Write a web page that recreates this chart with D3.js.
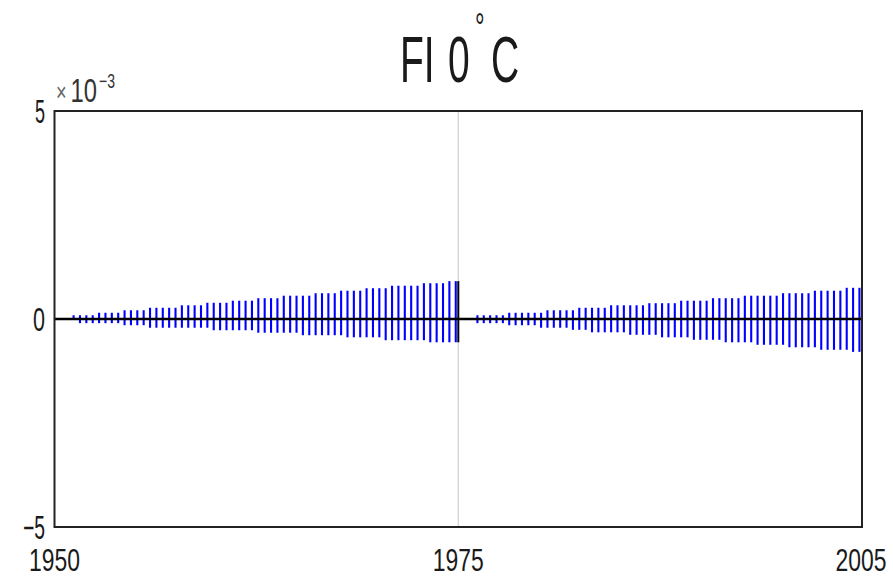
<!DOCTYPE html>
<html>
<head>
<meta charset="utf-8">
<script src="https://cdn.jsdelivr.net/npm/d3@7"></script>
<style>
  html, body { margin: 0; padding: 0; background: #fff; }
  svg { display: block; }
  text { font-family: "Liberation Sans", Arial, sans-serif; fill: #1a1a1a; }
</style>
</head>
<body>
<svg id="chart" width="893" height="578"></svg>
<script>
// Year breaks of the two segments on the time axis
const xBreaks = [1950, 1975, 2005];
const xTickLabels = ["1950", "1975", "2005"];
const yTicks = [-5, 0, 5];          // in units of 10^-3
const yExponent = "−3";

// Upper and lower ends of each stem, in units of 10^-3, segment 1950–1975
const seg1Top = [
  0.09, 0.09, 0.09, 0.09, 0.15, 0.15, 0.15, 0.15, 0.21, 0.21,
  0.21, 0.21, 0.27, 0.27, 0.27, 0.27, 0.27, 0.33, 0.33, 0.33,
  0.33, 0.39, 0.39, 0.39, 0.39, 0.44, 0.44, 0.44, 0.44, 0.50,
  0.50, 0.50, 0.50, 0.56, 0.56, 0.56, 0.56, 0.56, 0.62, 0.62,
  0.62, 0.62, 0.68, 0.68, 0.68, 0.68, 0.74, 0.74, 0.74, 0.74,
  0.80, 0.80, 0.80, 0.80, 0.80, 0.86, 0.86, 0.86, 0.86, 0.91,
  0.91
];
const seg1Bottom = [
  -0.02, -0.10, -0.10, -0.10, -0.10, -0.10, -0.10, -0.10, -0.15, -0.15,
  -0.15, -0.15, -0.21, -0.21, -0.21, -0.21, -0.21, -0.21, -0.21, -0.21,
  -0.21, -0.21, -0.27, -0.27, -0.27, -0.27, -0.27, -0.27, -0.27, -0.33,
  -0.33, -0.33, -0.33, -0.33, -0.33, -0.33, -0.39, -0.39, -0.39, -0.39,
  -0.39, -0.39, -0.39, -0.44, -0.44, -0.44, -0.44, -0.44, -0.44, -0.51,
  -0.51, -0.51, -0.51, -0.51, -0.51, -0.51, -0.56, -0.56, -0.56, -0.56,
  -0.56
];

// Segment 1975–2005
const seg2Top = [
  0.09, 0.09, 0.09, 0.09, 0.09, 0.15, 0.15, 0.15, 0.15, 0.15,
  0.15, 0.21, 0.21, 0.21, 0.21, 0.21, 0.27, 0.27, 0.27, 0.27,
  0.27, 0.33, 0.33, 0.33, 0.33, 0.33, 0.33, 0.38, 0.38, 0.38,
  0.38, 0.38, 0.44, 0.44, 0.44, 0.44, 0.44, 0.50, 0.50, 0.50,
  0.50, 0.50, 0.56, 0.56, 0.56, 0.56, 0.56, 0.56, 0.62, 0.62,
  0.62, 0.62, 0.62, 0.68, 0.68, 0.68, 0.68, 0.68, 0.75, 0.75,
  0.75
];
const seg2Bottom = [
  -0.10, -0.10, -0.10, -0.10, -0.10, -0.15, -0.15, -0.15, -0.15, -0.15,
  -0.21, -0.21, -0.21, -0.21, -0.21, -0.26, -0.26, -0.26, -0.32, -0.32,
  -0.32, -0.32, -0.32, -0.32, -0.38, -0.38, -0.38, -0.38, -0.38, -0.44,
  -0.44, -0.44, -0.44, -0.44, -0.50, -0.50, -0.50, -0.50, -0.50, -0.56,
  -0.56, -0.56, -0.56, -0.56, -0.62, -0.62, -0.62, -0.62, -0.62, -0.68,
  -0.68, -0.68, -0.68, -0.68, -0.74, -0.74, -0.74, -0.74, -0.74, -0.79,
  -0.79
];

// Each segment holds this many stem slots; the first stem sits in slot 3
const slotsPerSegment = 63.4;
const firstSlot = 3;

const svg = d3.select("#chart");
const W = 893, H = 578;
const plot = { left: 54.5, right: 862, top: 111, bottom: 527 };

svg.append("rect").attr("width", W).attr("height", H).attr("fill", "#fff");

// Both segments get the same width on screen
const x = d3.scaleLinear()
  .domain(xBreaks)
  .range([plot.left, (plot.left + plot.right) / 2 + 0.05, plot.right]);
const y = d3.scaleLinear().domain([-5, 5]).range([plot.bottom, plot.top]);

function segmentStems(top, bottom, y0, y1) {
  const slotYear = d3.scaleLinear().domain([0, slotsPerSegment]).range([y0, y1]);
  return top.map((t, i) => ({ year: slotYear(i + firstSlot), top: t, bottom: bottom[i] }));
}
const stems = [
  ...segmentStems(seg1Top, seg1Bottom, xBreaks[0], xBreaks[1]),
  ...segmentStems(seg2Top, seg2Bottom, xBreaks[1], xBreaks[2])
];

// Light divider between the two segments
svg.append("line")
  .attr("x1", x(xBreaks[1])).attr("x2", x(xBreaks[1]))
  .attr("y1", plot.top).attr("y2", plot.bottom)
  .attr("stroke", "#d4d4d4").attr("stroke-width", 1.3);

// Blue stems
svg.append("g").selectAll("line").data(stems).join("line")
  .attr("x1", d => x(d.year)).attr("x2", d => x(d.year))
  .attr("y1", d => y(d.top)).attr("y2", d => y(d.bottom))
  .attr("stroke", "#0000ff").attr("stroke-width", 2.1);

// Black closing stem at the end of the first segment
const lastIdx = seg1Top.length - 1;
svg.append("line")
  .attr("x1", x(xBreaks[1])).attr("x2", x(xBreaks[1]))
  .attr("y1", y(seg1Top[lastIdx])).attr("y2", y(seg1Bottom[lastIdx]))
  .attr("stroke", "#000").attr("stroke-width", 2);

// Zero line
svg.append("line")
  .attr("x1", x(xBreaks[0])).attr("x2", x(xBreaks[2]))
  .attr("y1", y(0)).attr("y2", y(0))
  .attr("stroke", "#000").attr("stroke-width", 2.4);

// Plot frame
svg.append("rect")
  .attr("x", plot.left).attr("y", plot.top)
  .attr("width", plot.right - plot.left).attr("height", plot.bottom - plot.top)
  .attr("fill", "none").attr("stroke", "#222").attr("stroke-width", 2);

// Y tick labels
const yLabelWidth = { "-5": 22, "0": 12, "5": 10 };
svg.append("g").selectAll("text").data(yTicks).join("text")
  .attr("x", 45).attr("y", d => y(d) + 12)
  .attr("text-anchor", "end")
  .attr("font-size", 33)
  .attr("textLength", d => yLabelWidth[String(d)])
  .attr("lengthAdjust", "spacingAndGlyphs")
  .text(d => d < 0 ? "−" + Math.abs(d) : String(d));

// X tick labels; the last one is right-aligned so it stays inside the page
const xLabelWidth = 51;
const lastX = xBreaks.length - 1;
svg.append("g").selectAll("text").data(xBreaks).join("text")
  .attr("x", (d, i) => i === lastX ? x(d) + xLabelWidth / 2 - 1 : x(d))
  .attr("y", 571)
  .attr("text-anchor", (d, i) => i === lastX ? "end" : "middle")
  .attr("font-size", 31)
  .attr("textLength", xLabelWidth)
  .attr("lengthAdjust", "spacingAndGlyphs")
  .text((d, i) => xTickLabels[i]);

// Exponent marker above the y axis (narrow lettering)
const sxE = 0.7;
const expo = svg.append("text")
  .attr("transform", `scale(${sxE},1)`);
expo.append("tspan").attr("x", 56 / sxE).attr("y", 101)
  .attr("font-size", 26).style("fill", "#666").text("×");
expo.append("tspan").attr("x", 70.5 / sxE).attr("y", 102)
  .attr("font-size", 34).style("fill", "#333").text("10");
expo.append("tspan").attr("x", 99 / sxE).attr("y", 88)
  .attr("font-size", 20).style("fill", "#333").text(yExponent);

// Title: FI 0°C (narrow lettering)
const sxT = 0.6;
const title = svg.append("text")
  .attr("transform", `scale(${sxT},1)`)
  .attr("font-size", 65);
title.append("tspan").attr("x", 400 / sxT).attr("y", 82).text("FI");
title.append("tspan").attr("x", 448 / sxT).attr("y", 82).text("0");
title.append("tspan").attr("x", 475 / sxT).attr("y", 41).attr("font-size", 40).text("°");
title.append("tspan").attr("x", 491 / sxT).attr("y", 82).text("C");
</script>
</body>
</html>
